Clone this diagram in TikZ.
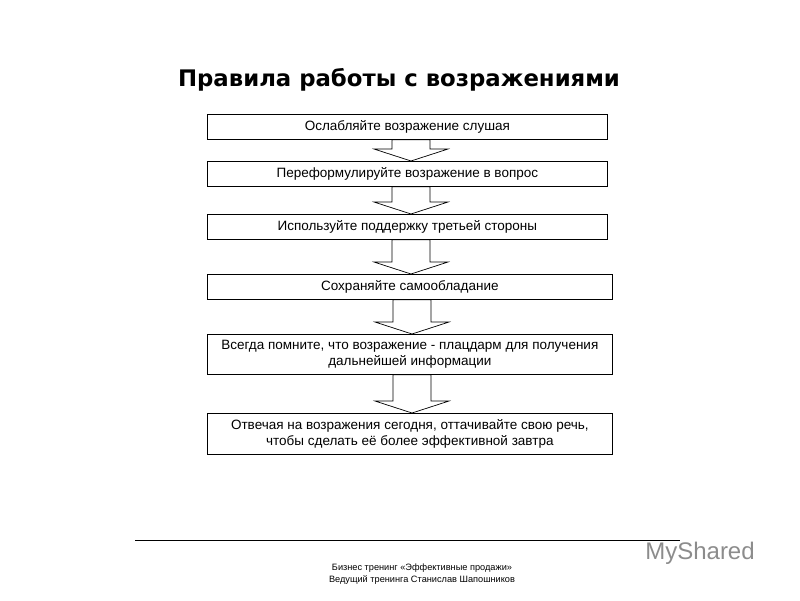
\documentclass[tikz,border=0pt]{standalone}
\usepackage{fontspec}
\setmainfont{Liberation Sans}
\newfontfamily\titlefont{DejaVu Sans}
\usetikzlibrary{calc}
\begin{document}
\begin{tikzpicture}[x=1pt,y=-1pt,
  stepbox/.style={draw,line width=0.7pt,minimum height=#1,inner sep=0pt,anchor=north west,align=center,font=\fontsize{13.5}{16.5}\selectfont},
  stepbox/.default=25pt]
\useasboundingbox (0,0) rectangle (800,600);
\node[font=\titlefont\bfseries\fontsize{22.8}{27}\selectfont] (title) at (399,80) {Правила работы с возражениями};
\node[stepbox,minimum width=400pt] (b1) at (207,114) {Ослабляйте возражение слушая};
\node[stepbox,minimum width=400pt] (b2) at (207,161) {Переформулируйте возражение в вопрос};
\node[stepbox,minimum width=400pt] (b3) at (207,214) {Используйте поддержку третьей стороны};
\node[stepbox,minimum width=405pt] (b4) at (207,274) {Сохраняйте самообладание};
\node[stepbox=40pt,minimum width=405pt] (b5) at (207,334) {Всегда помните, что возражение - плацдарм для получения\\дальнейшей информации};
\node[stepbox=41pt,minimum width=405pt] (b6) at (207,413) {Отвечая на возражения сегодня, оттачивайте свою речь,\\чтобы сделать её более эффективной завтра};
\foreach \a/\b/\c in {b1/b2/411,b2/b3/411,b3/b4/411,b4/b5/412,b5/b6/412}{
  \draw[line width=0.7pt] let \p1=(\a.south), \p2=(\b.north) in
    (\c-19,\y1) -- (\c+19,\y1) -- (\c+19,\y2+12pt) -- (\c+37,\y2+12pt) -- (\c,\y2)
    -- (\c-37,\y2+12pt) -- (\c-19,\y2+12pt) -- cycle;
}
\coordinate (l1) at (135,540);
\coordinate (l2) at (680,540);
\draw[line width=0.6pt] (l1) -- (l2);
\node[font=\fontsize{9.2}{11.5}\selectfont,align=center] (foot) at (422,574) {Бизнес тренинг «Эффективные продажи»\\Ведущий тренинга Станислав Шапошников};
\node[font=\fontsize{24}{28}\selectfont,text=black!45] (logo) at (700,553) {MyShared};
\end{tikzpicture}
\end{document}
